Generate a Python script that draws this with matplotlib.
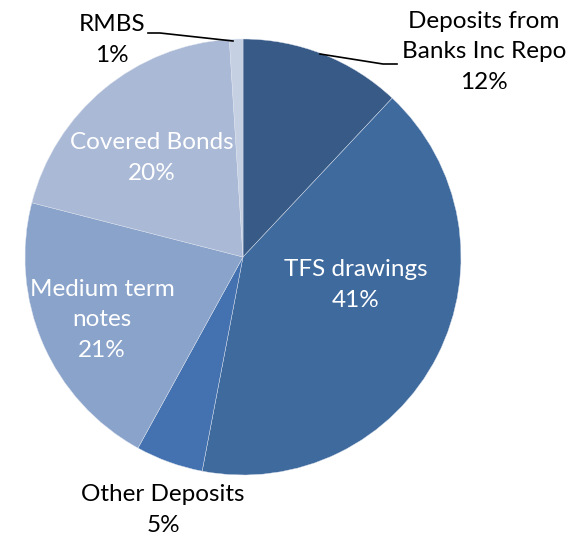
import matplotlib.pyplot as plt

# funding mix, clockwise from 12 o'clock
names = ["Deposits from\nBanks Inc Repo", "TFS drawings", "Other Deposits",
         "Medium term\nnotes", "Covered Bonds", "RMBS"]
shares = [12, 41, 5, 21, 20, 1]
colors = ["#375A87", "#3F6A9D", "#4472B0", "#8AA3CB", "#AAB9D6", "#C5D0E3"]

plt.rcParams['font.family'] = ['Lato', 'DejaVu Sans']

W, H = 578, 539
fig = plt.figure(figsize=(W / 100, H / 100), dpi=100)
cx, cy, r = 243, 257, 218
ax = fig.add_axes([(cx - r) / W, (H - cy - r) / H, 2 * r / W, 2 * r / H])

ax.pie(shares, colors=colors, startangle=90, counterclock=False,
       wedgeprops=dict(linewidth=0.3, edgecolor="#dde3ee"))
ax.set_aspect("equal")
ax.set_xlim(-1, 1)
ax.set_ylim(-1, 1)


def px(x, y):
    return (x - cx) / r, (cy - y) / r


# label positions (pixel space), colour
spots = [((484, 52), "black"), ((356, 285), "white"), ((163, 510), "black"),
         ((102, 320), "white"), ((152, 158), "white"), ((112, 40), "black")]

for name, v, (pos, c) in zip(names, shares, spots):
    x, y = px(*pos)
    ax.text(x, y, f"{name}\n{v}%", ha="center", va="center", color=c,
            fontsize=17.5, linespacing=1.55, clip_on=False)

# leader lines
for pts in ([(148, 33), (160, 33), (233, 41)], [(320, 54), (383, 64), (397, 64)]):
    xs, ys = zip(*[px(*p) for p in pts])
    ax.plot(xs, ys, color="black", lw=1.2, clip_on=False)

fig.savefig("out.png", dpi=100)
